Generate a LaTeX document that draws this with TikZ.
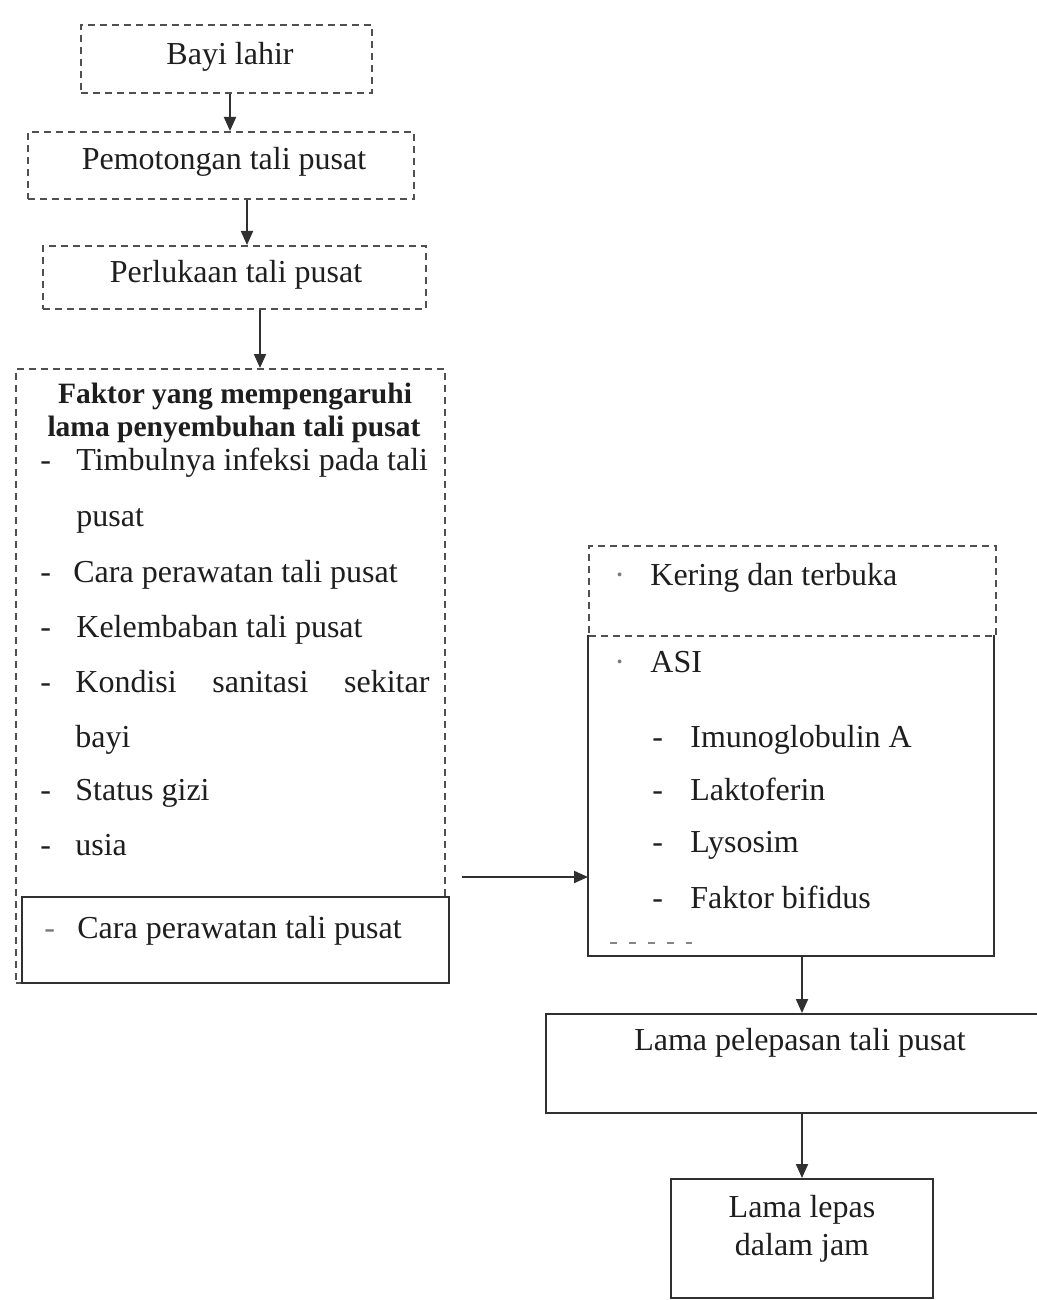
\documentclass[tikz,border=0pt]{standalone}
\usepackage{fontspec}
\setmainfont{Liberation Serif}
\usetikzlibrary{arrows.meta}
\definecolor{dashcol}{HTML}{505050}
\definecolor{solidcol}{HTML}{303030}
\definecolor{textcol}{HTML}{1E1E1E}
\begin{document}
\begin{tikzpicture}[x=0.5pt,y=-0.5pt,
  dbox/.style={draw=dashcol, line width=0.9pt, dash pattern=on 3.5pt off 2.5pt, rectangle, inner sep=0pt, anchor=north west},
  sbox/.style={draw=solidcol, line width=1pt, rectangle, inner sep=0pt, anchor=north west},
  nbox/.style={rectangle, inner sep=0pt, anchor=north west},
  arr/.style={draw=solidcol, line width=1pt, -{Triangle[length=7pt,width=6pt]}},
  txt/.style={inner sep=0pt, anchor=base, text=textcol, font=\fontsize{16}{19}\selectfont},
  ltxt/.style={txt, anchor=base west},
  htxt/.style={inner sep=0pt, anchor=base, text=textcol, font=\fontsize{14.75}{17}\selectfont\bfseries}]
\useasboundingbox (0,0) rectangle (1037,1300);
\clip (0,0) rectangle (1037,1300);
\fill[white] (0,0) rectangle (1037,1300);

% boxes
\node[dbox, minimum width=145.5pt, minimum height=34pt] (b1) at (80,24) {};
\node[dbox, minimum width=193pt, minimum height=33.5pt] (b2) at (27,131) {};
\node[dbox, minimum width=191.5pt, minimum height=31.5pt] (b3) at (42,245) {};
\node[dbox, minimum width=214.5pt, minimum height=307pt] (b4) at (15,368) {};
\node[sbox, fill=white, minimum width=213.5pt, minimum height=43pt] (b5) at (21,896) {};
\node[nbox, minimum width=202.5pt, minimum height=160pt] (b7) at (588,635) {};
\draw[solidcol, line width=1pt] (b7.north west) -- (b7.south west) -- (b7.south east) -- (b7.north east);
\node[dbox, minimum width=203.5pt, minimum height=45pt] (b6) at (588,545) {};
\node[sbox, minimum width=250pt, minimum height=49.5pt] (b8) at (545,1013) {};
\node[sbox, minimum width=131pt, minimum height=59.5pt] (b9) at (670,1178) {};

% connectors
\coordinate (a1) at (230,0);
\coordinate (a2) at (247,0);
\coordinate (a3) at (260,0);
\coordinate (a5) at (802,0);
\coordinate (s4) at (462,877);
\draw[arr] (b1.south -| a1) -- (b2.north -| a1);
\draw[arr] (b2.south -| a2) -- (b3.north -| a2);
\draw[arr] (b3.south -| a3) -- (b4.north -| a3);
\draw[arr] (s4) -- (s4 -| b7.west);
\draw[arr] (b7.south -| a5) -- (b8.north -| a5);
\draw[arr] (b8.south -| a5) -- (b9.north -| a5);

% texts top
\node[txt] (t1) at (230,65) {Bayi lahir};
\node[txt] (t2) at (224,170) {Pemotongan tali pusat};
\node[txt] (t3) at (236,283) {Perlukaan tali pusat};

% factor box
\node[htxt] (h1) at (235,403) {Faktor yang mempengaruhi};
\node[htxt] (h2) at (234,436) {lama penyembuhan tali pusat};
\node[ltxt] (d1) at (40,470) {-};
\node[ltxt] (l1) at (76,470) {Timbulnya infeksi pada tali};
\node[ltxt] (l1b) at (76,526) {pusat};
\node[ltxt] (d2) at (40,582) {-};
\node[ltxt] (l2) at (73,582) {Cara perawatan tali pusat};
\node[ltxt] (d3) at (40,637) {-};
\node[ltxt] (l3) at (76,637) {Kelembaban tali pusat};
\node[ltxt] (d4) at (40,692) {-};
\node[ltxt] (l4) at (75,692) {\makebox[177pt][s]{Kondisi sanitasi sekitar}};
\node[ltxt] (l4b) at (75,747) {bayi};
\node[ltxt] (d5) at (40,800) {-};
\node[ltxt] (l5) at (75,800) {Status gizi};
\node[ltxt] (d6) at (40,855) {-};
\node[ltxt] (l6) at (75,855) {usia};
\node[ltxt, text=textcol!60] (d7) at (44,938) {-};
\node[ltxt] (l7) at (77,938) {Cara perawatan tali pusat};

% right box
\node[ltxt, text=textcol!60] (k0) at (614,585) {·};
\node[ltxt] (k1) at (650,585) {Kering dan terbuka};
\node[ltxt, text=textcol!60] (asi0) at (614,672) {·};
\node[ltxt] (asi) at (650,672) {ASI};
\node[ltxt] (e1) at (652,747) {-};
\node[ltxt] (s1) at (690,747) {Imunoglobulin A};
\node[ltxt] (e2) at (652,800) {-};
\node[ltxt] (s2) at (690,800) {Laktoferin};
\node[ltxt] (e3) at (652,852) {-};
\node[ltxt] (s3) at (690,852) {Lysosim};
\node[ltxt] (e4) at (652,908) {-};
\node[ltxt] (s4t) at (690,908) {Faktor bifidus};
\coordinate (f1) at (610,943);
\coordinate (f2) at (692,943);
\draw[dashcol!70, line width=1.1pt, dash pattern=on 3.5pt off 6pt] (f1) -- (f2);

% bottom
\node[txt] (t8) at (800,1050) {Lama pelepasan tali pusat};
\node[txt] (t9a) at (802,1217) {Lama lepas};
\node[txt] (t9b) at (802,1255) {dalam jam};
\end{tikzpicture}
\end{document}
